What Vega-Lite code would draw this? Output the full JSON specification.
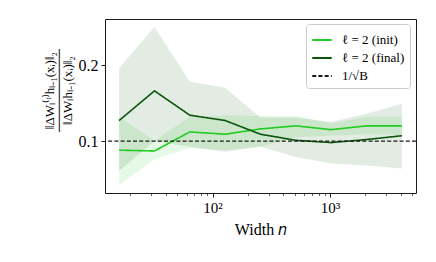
{
  "$schema": "https://vega.github.io/schema/vega-lite/v6.json",
  "width": 311,
  "height": 174,
  "autosize": {"type": "none"},
  "padding": {"left": 105, "top": 19, "right": 20, "bottom": 69},
  "background": "white",
  "config": {
    "view": {"stroke": "#1a1a1a", "strokeWidth": 1},
    "font": "Liberation Serif",
    "axis": {"grid": false, "domain": false, "tickColor": "#1a1a1a", "labelColor": "black", "titleColor": "black", "labelFont": "Liberation Serif", "titleFont": "Liberation Serif", "titleFontWeight": "normal"},
    "legend": {"orient": "none", "legendX": 201, "legendY": 5, "fillColor": "white", "strokeColor": "#cccccc", "cornerRadius": 3, "padding": 5, "symbolType": "stroke", "symbolSize": 380, "symbolStrokeWidth": 1.8, "labelFont": "Liberation Serif", "labelColor": "black", "labelFontSize": 13, "rowPadding": 0, "labelOffset": 9}
  },
  "datasets": {
    "series": [
      {"n": 16, "s": "ℓ = 2 (init)", "y": 0.088, "lo": 0.042, "hi": 0.132},
      {"n": 32, "s": "ℓ = 2 (init)", "y": 0.087, "lo": 0.076, "hi": 0.100},
      {"n": 64, "s": "ℓ = 2 (init)", "y": 0.112, "lo": 0.091, "hi": 0.132},
      {"n": 128, "s": "ℓ = 2 (init)", "y": 0.109, "lo": 0.088, "hi": 0.134},
      {"n": 256, "s": "ℓ = 2 (init)", "y": 0.116, "lo": 0.093, "hi": 0.133},
      {"n": 512, "s": "ℓ = 2 (init)", "y": 0.120, "lo": 0.105, "hi": 0.133},
      {"n": 1024, "s": "ℓ = 2 (init)", "y": 0.115, "lo": 0.107, "hi": 0.123},
      {"n": 2048, "s": "ℓ = 2 (init)", "y": 0.120, "lo": 0.109, "hi": 0.132},
      {"n": 4096, "s": "ℓ = 2 (init)", "y": 0.120, "lo": 0.108, "hi": 0.132},
      {"n": 16, "s": "ℓ = 2 (final)", "y": 0.127, "lo": 0.0605, "hi": 0.196},
      {"n": 32, "s": "ℓ = 2 (final)", "y": 0.166, "lo": 0.100, "hi": 0.250},
      {"n": 64, "s": "ℓ = 2 (final)", "y": 0.134, "lo": 0.0925, "hi": 0.178},
      {"n": 128, "s": "ℓ = 2 (final)", "y": 0.127, "lo": 0.086, "hi": 0.170},
      {"n": 256, "s": "ℓ = 2 (final)", "y": 0.109, "lo": 0.0925, "hi": 0.131},
      {"n": 512, "s": "ℓ = 2 (final)", "y": 0.101, "lo": 0.079, "hi": 0.131},
      {"n": 1024, "s": "ℓ = 2 (final)", "y": 0.098, "lo": 0.0706, "hi": 0.125},
      {"n": 2048, "s": "ℓ = 2 (final)", "y": 0.102, "lo": 0.068, "hi": 0.136},
      {"n": 4096, "s": "ℓ = 2 (final)", "y": 0.107, "lo": 0.064, "hi": 0.149}
    ],
    "ref": [{"s": "1/√B", "v": 0.1}]
  },
  "layer": [
    {
      "data": {"name": "series"},
      "mark": {"type": "area", "opacity": 0.12, "clip": true},
      "encoding": {
        "x": {"field": "n", "type": "quantitative", "scale": {"type": "log", "domain": [12.13, 5404], "nice": false},
          "axis": {
            "values": [20, 30, 40, 50, 60, 70, 80, 90, 100, 200, 300, 400, 500, 600, 700, 800, 900, 1000, 2000, 3000, 4000, 5000],
            "labelExpr": "datum.value == 100 ? '10²' : (datum.value == 1000 ? '10³' : '')",
            "tickSize": {"condition": {"test": "datum.value == 100 || datum.value == 1000", "value": 4}, "value": 2.5},
            "tickWidth": {"condition": {"test": "datum.value == 100 || datum.value == 1000", "value": 1}, "value": 0.7},
            "labelFontSize": 15, "labelPadding": 3, "labelFlush": false, "labelOverlap": false,
            "title": "Width 𝑛", "titleFontSize": 16, "titlePadding": 6
          }
        },
        "y": {"field": "lo", "type": "quantitative", "scale": {"domain": [0.0317, 0.2605], "nice": false, "zero": false},
          "axis": {
            "values": [0.1, 0.2], "format": ".1f", "tickSize": 4, "labelFontSize": 16, "labelPadding": 3,
            "title": ["‖ΔWₗ⁽ᵗ⁾hₗ₋₁(xᵢ)‖₂", "─────────", "‖ΔWₗhₗ₋₁(xᵢ)‖₂"],
            "titleFontSize": 13, "titleLineHeight": 9, "titleAngle": -90, "titleX": -56, "titleY": 71, "titleAlign": "center", "titleBaseline": "middle"
          }
        },
        "y2": {"field": "hi"},
        "fill": {"field": "s", "type": "nominal", "scale": {"domain": ["ℓ = 2 (init)", "ℓ = 2 (final)"], "range": ["#2fcf2f", "#0f5f0f"]}, "legend": null}
      }
    },
    {
      "data": {"name": "series"},
      "mark": {"type": "line", "strokeWidth": 1.6, "clip": true},
      "encoding": {
        "x": {"field": "n", "type": "quantitative"},
        "y": {"field": "y", "type": "quantitative"},
        "color": {"field": "s", "type": "nominal",
          "scale": {"domain": ["ℓ = 2 (init)", "ℓ = 2 (final)", "1/√B"], "range": ["#1fcc1f", "#0b550b", "#1a1a1a"]},
          "legend": {"title": null}},
        "strokeDash": {"field": "s", "type": "nominal",
          "scale": {"domain": ["ℓ = 2 (init)", "ℓ = 2 (final)", "1/√B"], "range": [[1, 0], [1, 0], [4, 2.2]]},
          "legend": {"title": null}}
      }
    },
    {
      "data": {"name": "ref"},
      "mark": {"type": "rule", "strokeWidth": 1.3},
      "encoding": {
        "y": {"field": "v", "type": "quantitative"},
        "color": {"field": "s", "type": "nominal", "legend": {"title": null}},
        "strokeDash": {"field": "s", "type": "nominal", "legend": {"title": null}}
      }
    }
  ],
  "resolve": {"legend": {"color": "shared", "strokeDash": "shared"}}
}
